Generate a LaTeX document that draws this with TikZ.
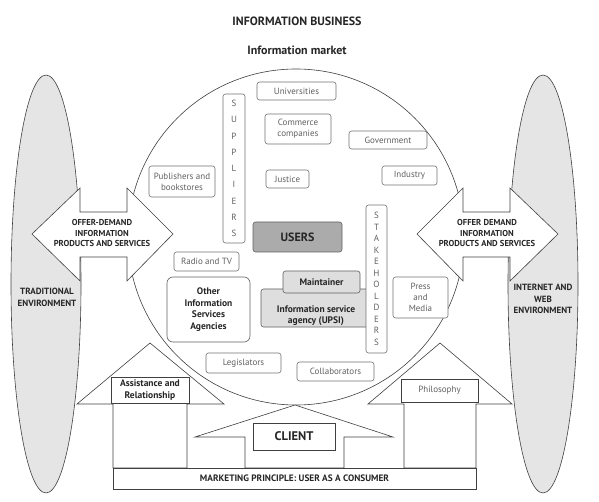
\documentclass[tikz,border=0pt]{standalone}
\usepackage{fontspec}
\setmainfont{PT Sans}
\usetikzlibrary{positioning}
\tikzset{
  bx/.style={rectangle,rounded corners=2.5pt,draw=black!55,fill=white,text=black!62,
    font=\fontsize{9}{11}\selectfont,line width=.6pt,inner sep=0pt,align=center},
  bxb/.style={bx,draw=black!62,text=black!85,font=\bfseries\fontsize{9.5}{11.7}\selectfont},
  bxg/.style={bxb,fill=black!13},
  vt/.style={bx,font=\fontsize{9}{16.3}\selectfont},
  sq/.style={rectangle,draw=black!75,fill=white,line width=.6pt,inner sep=0pt,align=center,
    text=black!85,font=\bfseries\fontsize{9.5}{11.7}\selectfont},
  env/.style={draw=black!75,fill=black!10,line width=.6pt},
  shp/.style={draw=black!75,fill=white,line width=.6pt},
  lb/.style={font=\bfseries\fontsize{8.6}{10.3}\selectfont,text=black!85,align=center},
  ttl/.style={font=\bfseries\fontsize{12}{14}\selectfont,text=black!85},
}
\begin{document}
\begin{tikzpicture}[x=1pt,y=-1pt]
\useasboundingbox (0,0) rectangle (599,502);
% headings
\node[ttl] (title) at (297,21) {INFORMATION BUSINESS};
\node[ttl] (sub) at (297,50) {Information market};
% the two environments
\draw[env] (46,284) ellipse [x radius=35pt,y radius=209pt];
\draw[env] (543,284) ellipse [x radius=35pt,y radius=209pt];
% the market
\draw[shp] (296,237) circle [radius=168pt];
% offer and demand, both sides
\draw[shp] (32,234) -- (80,188) -- (80,212) -- (127,212) -- (127,188) -- (173,234)
  -- (127,281) -- (127,257) -- (80,257) -- (80,281) -- cycle;
\draw[shp] (417,234) -- (463,188) -- (463,212) -- (510,212) -- (510,188) -- (558,234)
  -- (510,281) -- (510,257) -- (463,257) -- (463,281) -- cycle;
\node[lb] (od1) at (102,233) {OFFER-DEMAND\\INFORMATION\\PRODUCTS AND SERVICES};
\node[lb] (od2) at (487,233) {OFFER DEMAND\\INFORMATION\\PRODUCTS AND SERVICES};
\node[lb,font=\bfseries\fontsize{9}{11.7}\selectfont] (trad) at (47,297) {TRADITIONAL\\ENVIRONMENT};
\node[lb,font=\bfseries\fontsize{9}{11.7}\selectfont] (web) at (543,299) {INTERNET AND\\WEB\\ENVIRONMENT};
% the three arrows that hold the market up
\draw[shp] (113,468) -- (113,404) -- (77,404) -- (150,343) -- (224,404) -- (187,404)
  -- (187,468) -- cycle;
\draw[shp] (245,468) -- (245,437) -- (195,437) -- (295,405) -- (393,437) -- (344,437)
  -- (344,468) -- cycle;
\draw[shp] (404,468) -- (404,404) -- (368,404) -- (440,343) -- (512,404) -- (476,404)
  -- (476,468) -- cycle;
\node[sq,minimum width=78pt,minimum height=26pt] (asst) at (150,390) {Assistance and\\Relationship};
\node[sq,minimum width=77pt,minimum height=23pt,text=black!62,font=\fontsize{9}{11}\selectfont]
  (phil) at (439.5,390.5) {Philosophy};
\node[sq,minimum width=82pt,minimum height=27pt,font=\bfseries\fontsize{12.5}{14}\selectfont]
  (client) at (294,436.5) {CLIENT};
\node[sq,minimum width=363pt,minimum height=21pt,font=\bfseries\fontsize{9.3}{11}\selectfont]
  (mkt) at (294.5,478.5) {MARKETING PRINCIPLE: USER AS A CONSUMER};
% actors inside the market
\node[bx,minimum width=79pt,minimum height=18pt] (univ) at (296.5,91) {Universities};
\node[bx,minimum width=66pt,minimum height=30pt] (comm) at (298,129) {Commerce\\companies};
\node[bx,minimum width=78pt,minimum height=18pt] (govt) at (388,140) {Government};
\node[bx,minimum width=55pt,minimum height=19pt] (indus) at (409.5,175.5) {Industry};
\node[bx,minimum width=43pt,minimum height=18pt] (just) at (287.5,179) {Justice};
\node[bx,minimum width=66pt,minimum height=31pt] (publ) at (182,181.5) {Publishers and\\bookstores};
\node[vt,minimum width=22pt,minimum height=149pt] (supp) at (234,168.5) {S\\U\\P\\P\\L\\I\\E\\R\\S};
\node[bxb,fill=black!33,minimum width=89pt,minimum height=30pt,
  font=\bfseries\fontsize{12}{14}\selectfont] (users) at (297.5,237) {USERS};
\node[bx,minimum width=65pt,minimum height=19pt] (radio) at (206.5,261.5) {Radio and TV};
\node[bxb,rounded corners=6pt,minimum width=83pt,minimum height=65pt] (other) at (208.5,309.5)
  {Other\\Information\\Services\\Agencies};
\node[bxg,minimum width=110pt,minimum height=38pt,text depth=0pt] (upsi) at (316,308)
  {\strut\\Information service\\agency (UPSI)};
\node[bxg,minimum width=77pt,minimum height=22pt] (maint) at (321.5,282) {Maintainer};
\node[vt,font=\fontsize{9}{11.5}\selectfont,minimum width=21pt,minimum height=148pt] (stake)
  at (376.5,279) {S\\T\\A\\K\\E\\H\\O\\L\\D\\E\\R\\S};
\node[bx,minimum width=55pt,minimum height=41pt,font=\fontsize{9}{10.8}\selectfont] (press)
  at (420.5,297.5) {Press\\and\\Media};
\node[bx,minimum width=75pt,minimum height=20pt] (legis) at (243.5,363) {Legislators};
\node[bx,minimum width=77pt,minimum height=19pt] (collab) at (335.5,371.5) {Collaborators};
\end{tikzpicture}
\end{document}
